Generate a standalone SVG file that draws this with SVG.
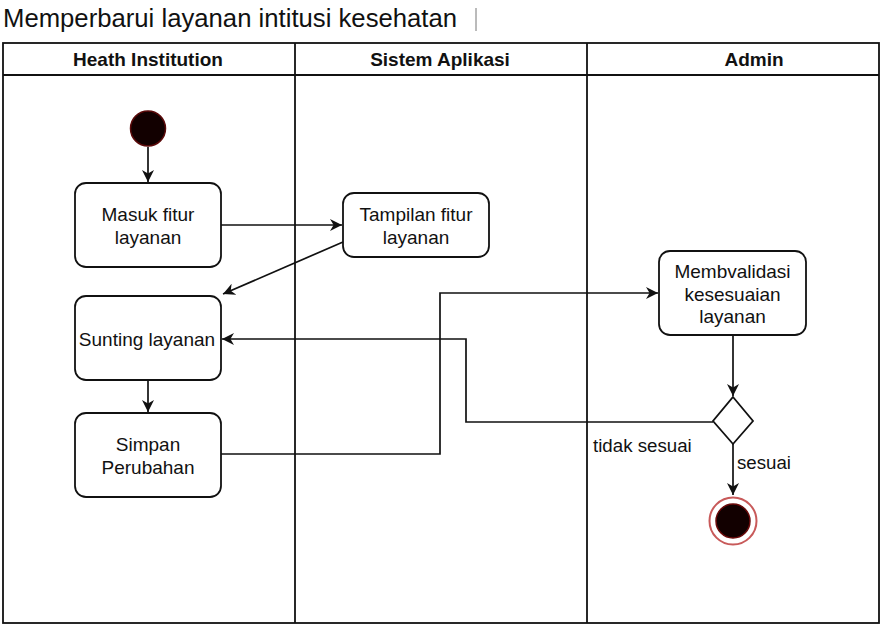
<svg xmlns="http://www.w3.org/2000/svg" width="887" height="625" viewBox="0 0 887 625">
<style>
.t{font-family:"Liberation Sans",Arial,sans-serif;fill:#111;}
.node{fill:#fff;stroke:#111;stroke-width:1.8;}
.hdr{font-family:"Liberation Sans",Arial,sans-serif;font-weight:bold;font-size:19px;fill:#111;text-anchor:middle;}
.lbl{font-family:"Liberation Sans",Arial,sans-serif;font-size:19px;fill:#111;text-anchor:middle;}
.edge{fill:none;stroke:#111;stroke-width:1.7;}
.lane{fill:none;stroke:#111;stroke-width:1.8;}
</style>
<defs>
<marker id="arr" viewBox="0 0 10 10" refX="10" refY="5" markerWidth="12" markerHeight="12" markerUnits="userSpaceOnUse" orient="auto">
<path d="M0,0 L10,5 L0,10 L3,5 z" fill="#111"/>
</marker>
</defs>
<rect width="887" height="625" fill="#fff"/>
<text class="t" x="3" y="27" font-size="25.7">Memperbarui layanan intitusi kesehatan</text>
<line x1="476" y1="8" x2="476" y2="31" stroke="#777" stroke-width="1"/>
<g id="pool">
<rect class="lane" x="3" y="43" width="876" height="580"/>
<line class="lane" x1="3" y1="75" x2="879" y2="75"/>
<line class="lane" x1="295" y1="43" x2="295" y2="623"/>
<line class="lane" x1="587" y1="43" x2="587" y2="623"/>
<text class="hdr" x="148" y="66">Heath Institution</text>
<text class="hdr" x="440" y="66">Sistem Aplikasi</text>
<text class="hdr" x="754" y="66">Admin</text>
</g>
<g id="edges">
<line class="edge" x1="148" y1="147" x2="148" y2="182" marker-end="url(#arr)"/>
<line class="edge" x1="221" y1="225" x2="342" y2="225" marker-end="url(#arr)"/>
<line class="edge" x1="343" y1="242" x2="223" y2="294" marker-end="url(#arr)"/>
<line class="edge" x1="148" y1="380" x2="148" y2="412" marker-end="url(#arr)"/>
<polyline class="edge" points="221,454 440,454 440,293 658,293" marker-end="url(#arr)"/>
<line class="edge" x1="733" y1="335" x2="733" y2="396" marker-end="url(#arr)"/>
<polyline class="edge" points="713,422 466,422 466,339 222,339" marker-end="url(#arr)"/>
<line class="edge" x1="733" y1="444" x2="733" y2="495" marker-end="url(#arr)"/>
<text class="t" x="593" y="452" font-size="18.7">tidak sesuai</text>
<text class="t" x="737" y="469" font-size="18.7">sesuai</text>
</g>
<g id="start">
<circle cx="148" cy="128.5" r="17.5" fill="#120000" stroke="#5a0a0a" stroke-width="1.5"/>
</g>
<g id="masuk">
<rect class="node" x="75" y="183" width="146" height="84" rx="11"/>
<text class="lbl" x="148" y="221">Masuk fitur</text>
<text class="lbl" x="148" y="244">layanan</text>
</g>
<g id="tampilan">
<rect class="node" x="343" y="193" width="146" height="64" rx="11"/>
<text class="lbl" x="416" y="221">Tampilan fitur</text>
<text class="lbl" x="416" y="244">layanan</text>
</g>
<g id="sunting">
<rect class="node" x="75" y="296" width="146" height="84" rx="11"/>
<text class="lbl" x="147" y="346">Sunting layanan</text>
</g>
<g id="simpan">
<rect class="node" x="75" y="413" width="146" height="84" rx="11"/>
<text class="lbl" x="148" y="451">Simpan</text>
<text class="lbl" x="148" y="474">Perubahan</text>
</g>
<g id="validasi">
<rect class="node" x="659" y="251" width="147" height="84" rx="11"/>
<text class="lbl" x="732.5" y="278">Membvalidasi</text>
<text class="lbl" x="732.5" y="300.5">kesesuaian</text>
<text class="lbl" x="732.5" y="323">layanan</text>
</g>
<g id="decision">
<polygon points="733,397 753,421 733,444 713,421" fill="#fff" stroke="#111" stroke-width="1.8"/>
</g>
<g id="end">
<circle cx="733" cy="521" r="23.5" fill="#fff" stroke="#c85a5a" stroke-width="2"/>
<circle cx="733" cy="521" r="17" fill="#120000" stroke="#6a0a0a" stroke-width="1.5"/>
</g>
</svg>
